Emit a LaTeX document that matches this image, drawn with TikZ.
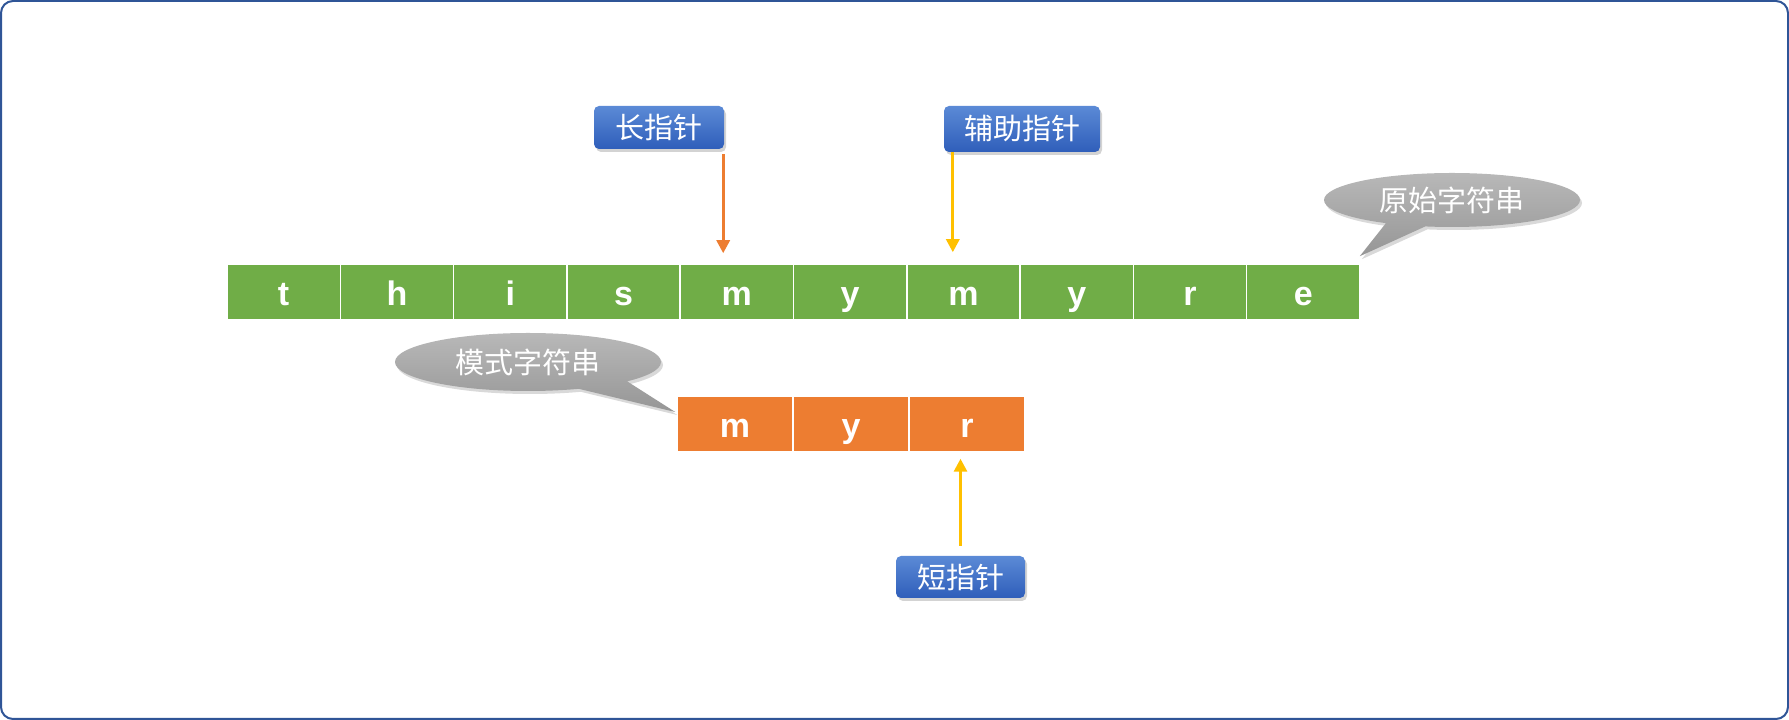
\documentclass[tikz,border=0pt]{standalone}
\usepackage{fontspec}
\newfontfamily\cjk{Noto Sans CJK SC}
\newfontfamily\lat{Liberation Sans}
\usetikzlibrary{shadows,arrows.meta,calc}
\definecolor{frameblue}{HTML}{2F5597}
\definecolor{cellgreen}{HTML}{70AD47}
\definecolor{cellorange}{HTML}{ED7D31}
\definecolor{ptrgold}{HTML}{FFC000}
\definecolor{btntop}{HTML}{5B8AD6}
\definecolor{btnbot}{HTML}{2F5EBA}
\definecolor{calltop}{HTML}{B8B8B8}
\definecolor{callbot}{HTML}{969696}
\tikzset{
  gcell/.style={draw=white, line width=1.5pt, fill=cellgreen, minimum width=113.3pt,
    minimum height=56pt, inner sep=0pt, text=white, text height=32pt, text depth=4pt,
    font=\lat\bfseries\fontsize{34}{34}\selectfont},
  ocell/.style={gcell, fill=cellorange, minimum width=116pt},
  btn/.style={rounded corners=5pt, top color=btntop, bottom color=btnbot, text=white,
    font=\cjk\fontsize{29}{30}\selectfont, inner sep=0pt,
    drop shadow={opacity=0.35, shadow xshift=2pt, shadow yshift=-3pt}},
  ptr/.style={line width=3pt, -{Triangle[width=13pt,length=13pt]}},
  callout/.style={top color=calltop, bottom color=callbot,
    drop shadow={opacity=0.3, shadow xshift=2pt, shadow yshift=-3pt}},
  calltext/.style={text=white, font=\cjk\fontsize{29}{30}\selectfont}
}
\begin{document}
\begin{tikzpicture}[x=1pt,y=1pt]
\useasboundingbox (0,0) rectangle (1789,720);
\draw[frameblue, line width=2pt, rounded corners=12pt] (1,1) rectangle (1788,719);

% original string
\foreach \ch [count=\k from 0] in {t,h,i,s,m,y,m,y,r,e}
  \node[gcell] (g\k) at ({227+113.3*(\k+0.5)}, 428) {\ch};

% pattern string
\node[ocell] (o0) at (735,296) {m};
\node[ocell] (o1) at (851,296) {y};
\node[ocell] (o2) at (967,296) {r};

% pointer buttons
\node[btn, minimum width=130pt, minimum height=43pt] (L) at (659,592.5) {长指针};
\node[btn, minimum width=156pt, minimum height=46pt] (A) at (1022,591) {辅助指针};
\node[btn, minimum width=129pt, minimum height=42pt] (S) at (960.5,143) {短指针};

% arrows
\draw[ptr, cellorange] ($(L.south east)+(-1,-5)$) -- ($(L.south east |- g4.north)+(-1,10)$);
\draw[ptr, ptrgold] ($(A.south west)+(9,0)$) -- ($(A.south west |- g6.north)+(9,11)$);
\draw[ptr, ptrgold] ($(S.north)+(0,10)$) -- ($(S.north |- o2.south)+(0,-6)$);

% callouts
\coordinate (t1) at ($(g9.north east)+(-1,7)$);
\path[callout] (1452,520) ellipse [x radius=128, y radius=27]
  (1390,502) -- (t1) -- (1435,498) -- cycle;
\node[calltext] (c1) at (1452,520) {原始字符串};

\coordinate (t2) at ($(o0.west)+(-1,12)$);
\path[callout] (528,358) ellipse [x radius=133, y radius=29]
  (567,334) -- (t2) -- (625,340) -- cycle;
\node[calltext] (c2) at (528,358) {模式字符串};
\end{tikzpicture}
\end{document}
